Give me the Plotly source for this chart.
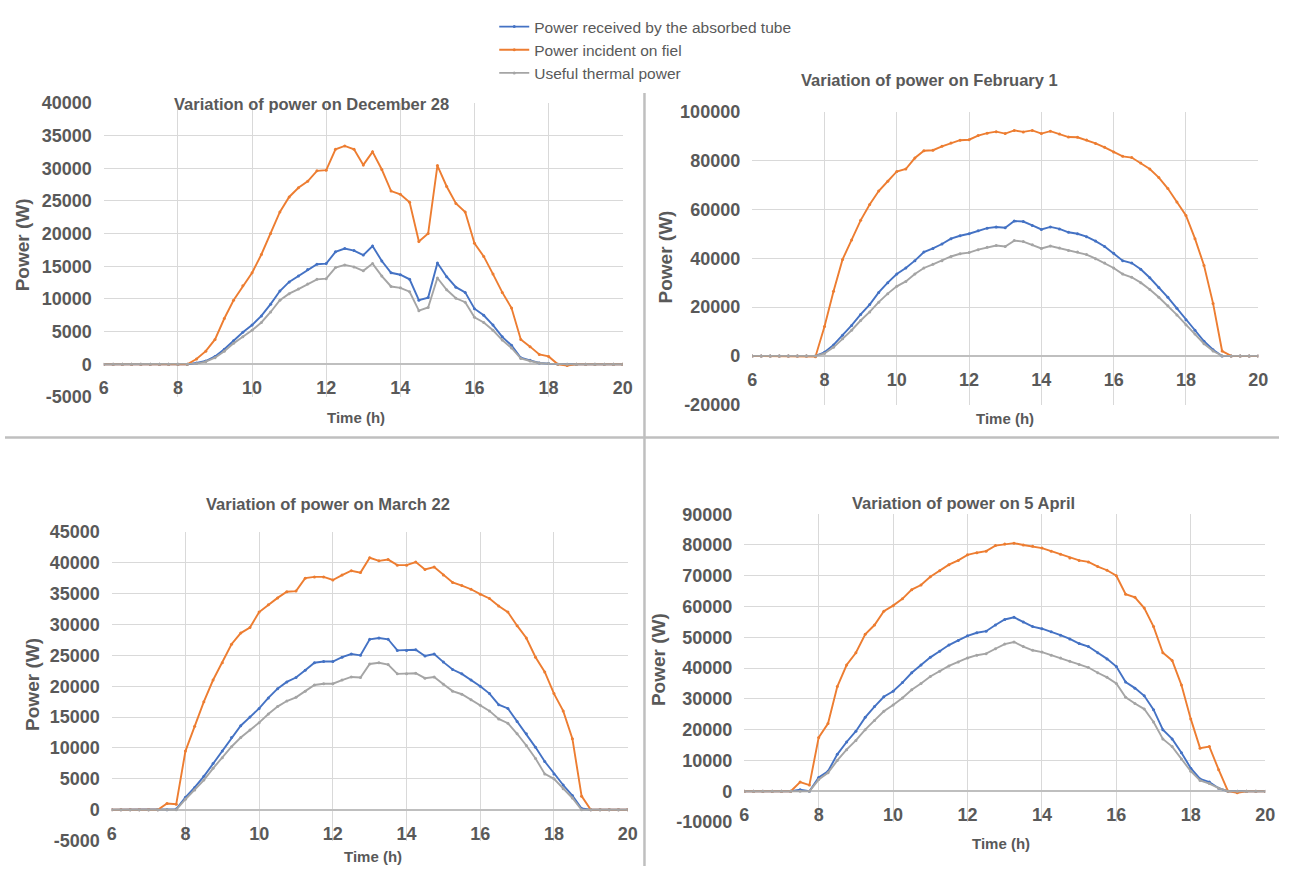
import plotly.graph_objects as go

# ---------------- DATA ----------------
time_h = [6.0, 6.25, 6.5, 6.75, 7.0, 7.25, 7.5, 7.75, 8.0, 8.25, 8.5, 8.75, 9.0, 9.25, 9.5, 9.75,
          10.0, 10.25, 10.5, 10.75, 11.0, 11.25, 11.5, 11.75, 12.0, 12.25, 12.5, 12.75, 13.0, 13.25,
          13.5, 13.75, 14.0, 14.25, 14.5, 14.75, 15.0, 15.25, 15.5, 15.75, 16.0, 16.25, 16.5, 16.75,
          17.0, 17.25, 17.5, 17.75, 18.0, 18.25, 18.5, 18.75, 19.0, 19.25, 19.5, 19.75, 20.0]

series_names = ["Power received by the absorbed tube", "Power incident on fiel", "Useful thermal power"]
series_colors = ["#4472C4", "#ED7D31", "#A5A5A5"]

# December 28
dec_absorbed = [0, 0, 0, 0, 0, 0, 0, 0, 0,
                0, 200, 500, 1200, 2300, 3600, 4900, 6000, 7400, 9200,
                11200, 12600, 13500, 14500, 15300, 15400, 17200, 17700, 17400, 16700,
                18100, 15800, 14000, 13700, 13000, 9800, 10200, 15500, 13400, 11800,
                11000, 8500, 7500, 6000, 4200, 2900, 1000, 600, 200, 100,
                0, 0,
                0, 0, 0, 0, 0, 0]
dec_incident = [0, 0, 0, 0, 0, 0, 0, 0, 0,
                0, 800, 2000, 3800, 7000, 9800, 12000, 14000, 16800, 20000,
                23300, 25600, 27000, 28000, 29600, 29700, 32900, 33400, 32900, 30500,
                32500, 29800, 26500, 26000, 24800, 18800, 20000, 30400, 27200, 24600,
                23300, 18500, 16500, 13800, 11000, 8600, 3800, 2700, 1500, 1200,
                0, -200,
                0, 0, 0, 0, 0, 0]
dec_useful = [0, 0, 0, 0, 0, 0, 0, 0, 0,
              0, 100, 400, 1000, 2000, 3200, 4200, 5200, 6400, 8000,
              9800, 10800, 11500, 12300, 13000, 13100, 14800, 15200, 14900, 14300,
              15400, 13500, 11900, 11700, 11100, 8200, 8700, 13200, 11400, 10100,
              9500, 7200, 6400, 5200, 3700, 2500, 900, 500, 200, 100,
              0, 0,
              0, 0, 0, 0, 0, 0]

# February 1
feb_absorbed = [0, 0, 0, 0, 0, 0, 0, 0,
                1500, 4500, 8500, 12500, 17000, 21000, 26000, 30000, 33500, 36000,
                39000, 42500, 44000, 45800, 48000, 49200, 50000, 51200, 52300, 52800,
                52500, 55200, 55000, 53400, 51800, 52800, 52000, 50600, 50000, 48800,
                47000, 44800, 42000, 39000, 38000, 35500, 32000, 28000, 24000, 19500,
                14800, 10500, 6000, 2500, 0,
                0, 0, 0, 0]
feb_incident = [0, 0, 0, 0, 0, 0, 0, -300,
                12000, 26500, 39500, 47500, 55500, 62000, 67500, 71500, 75500, 76500,
                81000, 84000, 84200, 85800, 87200, 88300, 88500, 90200, 91200, 91800,
                91000, 92300, 91700, 92300, 91000, 92000, 90800, 89600, 89500, 88400,
                87000, 85400, 83500, 81700, 81200, 79000, 76500, 73000, 68500, 63000,
                57500, 48000, 37000, 21500, 2000,
                0, 0, 0, 0]
feb_useful = [0, 0, 0, 0, 0, 0, 0, 0,
              1000, 3500, 7000, 10500, 14500, 18000, 22000, 25500, 28500, 30500,
              33500, 36000, 37500, 39000, 40700, 41800, 42300, 43500, 44500, 45200,
              44800, 47200, 46800, 45500, 44000, 45000, 44200, 43200, 42500, 41500,
              39800, 38000, 36000, 33500, 32200, 30000, 27200, 24000, 20500, 16800,
              12800, 9000, 5000, 2000, 0,
              0, 0, 0, 0]

# March 22
mar_absorbed = [0, 0, 0, 0, 0, 0,
                0, 100, 2000, 3600, 5400, 7500, 9500, 11700, 13600, 15000,
                16400, 18100, 19600, 20700, 21400, 22600, 23800, 24000, 24000, 24700,
                25200, 25000, 27600, 27800, 27600, 25800, 25800, 25900, 24900, 25200,
                23900, 22700, 22000, 21000, 20000, 18800, 17000, 16400, 14300, 12300,
                10100, 7800, 5800, 4000, 2300, 200, 0,
                0, 0, 0, 0]
mar_incident = [0, 0, 0, 0, 0, 0,
                1000, 900, 9500, 13500, 17500, 21000, 23800, 26800, 28600, 29500,
                32000, 33200, 34300, 35300, 35400, 37500, 37700, 37700, 37200, 38000,
                38700, 38400, 40800, 40300, 40500, 39600, 39600, 40100, 38900, 39300,
                38000, 36800, 36300, 35700, 34900, 34200, 33000, 32000, 29800, 27800,
                24700, 22300, 18800, 16000, 11500, 2200, 0,
                0, 0, 0, 0]
mar_useful = [0, 0, 0, 0, 0, 0,
              0, 0, 1700, 3200, 4800, 6700, 8400, 10200, 11700, 12900,
              14100, 15500, 16700, 17600, 18200, 19200, 20200, 20400, 20400, 21000,
              21500, 21400, 23600, 23800, 23500, 22000, 22000, 22100, 21300, 21500,
              20300, 19200, 18700, 17800, 16900, 16000, 14700, 14000, 12300, 10400,
              8300, 5800, 5000, 3400, 1900, 0, 0,
              0, 0, 0, 0]

# April 5
apr_absorbed = [0, 0, 0, 0, 0, 0,
                500, 0, 4500, 6500, 12000, 16000, 19500, 24000, 27500, 30700,
                32500, 35300, 38500, 41000, 43500, 45500, 47500, 49000, 50500, 51500,
                52000, 54000, 55800, 56500, 55000, 53500, 52800, 51800, 50700, 49500,
                48000, 47000, 45000, 43000, 40500, 35500, 33500, 31000, 26500, 20000,
                17000, 12500, 7500, 4000, 3000, 1000, 0, 0,
                0, 0, 0]
apr_incident = [0, 0, 0, 0, 0, 0,
                3000, 2000, 17500, 22000, 34000, 41000, 45000, 51000, 54000, 58500,
                60300, 62500, 65500, 67000, 69700, 71600, 73600, 75000, 76800, 77500,
                78000, 79800, 80300, 80600, 80000, 79600, 79000, 78000, 77000, 75800,
                75000, 74500, 73000, 71800, 70000, 64000, 63000, 59500, 53500, 45000,
                42500, 34500, 23500, 14000, 14500, 7000, 0, -500,
                0, 0, 0]
apr_useful = [0, 0, 0, 0, 0, 0,
              0, 0, 3800, 6000, 10000, 13500, 16500, 20000, 23000, 26000,
              28000, 30300, 33000, 35000, 37300, 39000, 40700, 42000, 43300, 44200,
              44700, 46300, 47800, 48500, 47000, 45800, 45200, 44200, 43300, 42200,
              41200, 40200, 38500, 37000, 35000, 30500, 28500, 26700, 22500, 17000,
              14500, 10500, 6500, 3500, 2500, 1000, 0, 0,
              0, 0, 0]

chart_titles = ["Variation of power on December 28", "Variation of power on February 1",
                "Variation of power on March 22", "Variation of power on 5 April"]

dec_yticks = [-5000, 0, 5000, 10000, 15000, 20000, 25000, 30000, 35000, 40000]
feb_yticks = [-20000, 0, 20000, 40000, 60000, 80000, 100000]
mar_yticks = [-5000, 0, 5000, 10000, 15000, 20000, 25000, 30000, 35000, 40000, 45000]
apr_yticks = [-10000, 0, 10000, 20000, 30000, 40000, 50000, 60000, 70000, 80000, 90000]
x_ticks = [6, 8, 10, 12, 14, 16, 18, 20]
x_axis_title = "Time (h)"
y_axis_title = "Power (W)"

datasets = [
    (dec_absorbed, dec_incident, dec_useful),
    (feb_absorbed, feb_incident, feb_useful),
    (mar_absorbed, mar_incident, mar_useful),
    (apr_absorbed, apr_incident, apr_useful),
]
yticks_all = [dec_yticks, feb_yticks, mar_yticks, apr_yticks]

# ---------------- LAYOUT (pixels) ----------------
W, H = 1289, 876
# plot areas: x0, x1, ytop, ybottom
areas = [(100, 625, 95, 396), (756, 1268, 104, 404), (108, 630, 534, 850), (748, 1275, 516, 831)]
title_pos = [(310, 96), (935, 72), (327, 506), (970, 505)]
ytitle_pos = [(18, 240), (668, 253), (28, 690), (662, 665)]
xtitle_pos = [(355, 417), (1012, 418), (372, 866), (1008, 853)]

FONT = "Liberation Sans, Arial, sans-serif"
TXT = "#595959"


def px(x):
    return x / W


def py(y):
    return 1 - y / H


fig = go.Figure()
layout = {}
annotations = []

for k in range(4):
    n = k + 1
    xa = "x" if n == 1 else f"x{n}"
    ya = "y" if n == 1 else f"y{n}"
    for s in range(3):
        fig.add_trace(go.Scatter(
            x=time_h, y=datasets[k][s], mode="lines+markers",
            name=series_names[s], legendgroup=series_names[s], showlegend=(k == 0),
            line=dict(color=series_colors[s], width=1.9),
            marker=dict(color=series_colors[s], size=3),
            xaxis=xa, yaxis=ya))
    x0, x1, yt, yb = areas[k]
    yt_vals = yticks_all[k]
    ymin, ymax = yt_vals[0], yt_vals[-1]
    ydom = [py(yb), py(yt)]
    zero_frac = ydom[0] + (0 - ymin) / (ymax - ymin) * (ydom[1] - ydom[0])
    layout["xaxis" if n == 1 else f"xaxis{n}"] = dict(
        domain=[px(x0), px(x1)], range=[6, 20], tickvals=x_ticks,
        ticktext=[str(v) for v in x_ticks],
        showgrid=True, gridcolor="#D9D9D9", gridwidth=1, zeroline=False,
        showline=False, ticks="", anchor="free", position=zero_frac,
        ticklabelstandoff=11,
        tickfont=dict(family=FONT, size=18, color=TXT, weight="bold"))
    layout["yaxis" if n == 1 else f"yaxis{n}"] = dict(
        domain=ydom, range=[ymin, ymax], tickvals=yt_vals,
        ticktext=[str(v) for v in yt_vals],
        showgrid=True, gridcolor="#D9D9D9", gridwidth=1,
        zeroline=True, zerolinecolor="#BFBFBF", zerolinewidth=1.5,
        showline=False, ticks="", anchor=xa,
        ticklabelstandoff=11,
        tickfont=dict(family=FONT, size=18, color=TXT, weight="bold"))
    annotations.append(dict(text=chart_titles[k], x=px(title_pos[k][0]), y=py(title_pos[k][1]),
                            xref="paper", yref="paper", showarrow=False, xanchor="center", yanchor="middle",
                            font=dict(family=FONT, size=16.5, color=TXT, weight="bold")))
    annotations.append(dict(text=y_axis_title, x=px(ytitle_pos[k][0]), y=py(ytitle_pos[k][1]),
                            xref="paper", yref="paper", showarrow=False, textangle=-90,
                            xanchor="center", yanchor="middle",
                            font=dict(family=FONT, size=19, color=TXT, weight="bold")))
    annotations.append(dict(text=x_axis_title, x=px(xtitle_pos[k][0]), y=py(xtitle_pos[k][1]),
                            xref="paper", yref="paper", showarrow=False,
                            xanchor="center", yanchor="middle",
                            font=dict(family=FONT, size=15, color=TXT, weight="bold")))

shapes = [
    dict(type="line", xref="paper", yref="paper", x0=px(647), x1=px(647), y0=py(85), y1=py(876),
         line=dict(color="#BFBFBF", width=2.5)),
    dict(type="line", xref="paper", yref="paper", x0=0, x1=1, y0=py(437.5), y1=py(437.5),
         line=dict(color="#BFBFBF", width=2.5)),
]

fig.update_layout(
    width=W, height=H, margin=dict(l=0, r=0, t=0, b=0),
    paper_bgcolor="white", plot_bgcolor="white",
    showlegend=True,
    legend=dict(x=px(495), y=py(0), xanchor="left", yanchor="top",
                font=dict(family=FONT, size=15.5, color=TXT),
                itemwidth=30, tracegroupgap=0, bgcolor="rgba(0,0,0,0)"),
    annotations=annotations, shapes=shapes, **layout)

fig.write_html("out.html")
